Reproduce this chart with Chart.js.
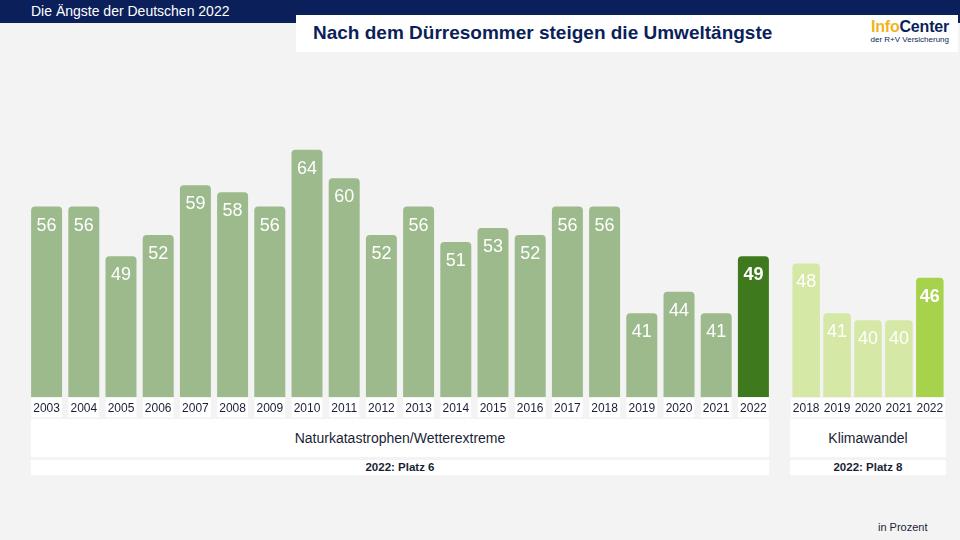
<!DOCTYPE html>
<html lang="de">
<head>
<meta charset="utf-8">
<script src="https://cdn.jsdelivr.net/npm/chart.js@4.4.0/dist/chart.umd.min.js"></script>
<style>
  html, body { margin: 0; padding: 0; }
  body {
    width: 960px; height: 540px; position: relative; overflow: hidden;
    background: #f3f3f3; font-family: "Liberation Sans", Arial, sans-serif;
  }
  .kopf { position: absolute; left: 0; top: 0; width: 960px; height: 23px; background: #0b1f5b; }
  .kopf span { position: absolute; left: 31px; top: 3px; color: #fff; font-size: 14px; }
  .titel {
    position: absolute; left: 296px; top: 15px; width: 662px; height: 37px; background: #fff;
  }
  .titel h1 {
    position: absolute; left: 17px; top: 7px; margin: 0;
    font-size: 19px; font-weight: bold; color: #0b1f5b;
  }
  .logo { position: absolute; left: 563px; top: 3px; width: 90px; text-align: right; }
  .logo b { display: block; font-size: 16px; color: #0b1f5b; letter-spacing: -0.2px; }
  .logo b em { font-style: normal; color: #f0b323; }
  .logo small { display: block; font-size: 8px; color: #0b1f5b; margin-top: -1px; }
  .box {
    position: absolute; background: #fff; color: #1a1f36; text-align: center;
  }
  .kat { top: 419px; height: 38px; line-height: 38px; font-size: 14px; }
  .platz { top: 460px; height: 15px; line-height: 15px; font-size: 11.5px; font-weight: bold; }
  .einheit { position: absolute; left: 878px; top: 521px; font-size: 11px; color: #1a1f36; }
  canvas { position: absolute; }
</style>
</head>
<body>
<div class="kopf"><span>Die Ängste der Deutschen 2022</span></div>
<div class="titel">
  <h1>Nach dem Dürresommer steigen die Umweltängste</h1>
  <div class="logo"><b><em>Info</em>Center</b><small>der R+V Versicherung</small></div>
</div>

<div style="position:absolute;left:28px;top:100px;width:744px;height:319px">
  <canvas id="chartNatur"></canvas>
</div>
<div style="position:absolute;left:789px;top:100px;width:158px;height:319px">
  <canvas id="chartKlima"></canvas>
</div>

<div class="box kat" style="left:31px;width:738px">Naturkatastrophen/Wetterextreme</div>
<div class="box platz" style="left:31px;width:738px">2022: Platz 6</div>
<div class="box kat" style="left:790px;width:156px">Klimawandel</div>
<div class="box platz" style="left:790px;width:156px">2022: Platz 8</div>
<div class="einheit">in Prozent</div>

<script>
// ================================
// Daten
// ================================
const jahreNatur = ["2003", "2004", "2005", "2006", "2007", "2008", "2009", "2010", "2011", "2012",
  "2013", "2014", "2015", "2016", "2017", "2018", "2019", "2020", "2021", "2022"];
const werteNatur = [56, 56, 49, 52, 59, 58, 56, 64, 60, 52, 56, 51, 53, 52, 56, 56, 41, 44, 41, 49];

const jahreKlima = ["2018", "2019", "2020", "2021", "2022"];
const werteKlima = [48, 41, 40, 40, 46];

// y-Achse (unsichtbar): gleiche Skala fuer beide Gruppen
const yMin = 29.2;
const yMax = 71;

// ================================
// Farben
// ================================
const farbeNatur = "#9cba8c";
const farbeNaturAktuell = "#3e7a1d";
const farbeKlima = "#d5e8a6";
const farbeKlimaAktuell = "#a6d24c";

Chart.defaults.font.family = "'Liberation Sans', Arial, sans-serif";

// Werte oben in den Balken
const werteLabels = {
  id: "werteLabels",
  afterDatasetsDraw(chart) {
    const { ctx } = chart;
    const meta = chart.getDatasetMeta(0);
    const ds = chart.data.datasets[0];
    const letzter = ds.data.length - 1;
    ctx.save();
    ctx.textAlign = "center";
    ctx.textBaseline = "middle";
    ctx.fillStyle = "#ffffff";
    meta.data.forEach((bar, i) => {
      ctx.font = (i === letzter ? "bold " : "") + "18px 'Liberation Sans', Arial, sans-serif";
      ctx.fillText(ds.data[i], bar.x, bar.y + 19);
    });
    ctx.restore();
  },
};

function baueChart(id, labels, werte, farbe, farbeAktuell, balkenAnteil) {
  const farben = werte.map((_, i) => (i === werte.length - 1 ? farbeAktuell : farbe));
  return new Chart(document.getElementById(id), {
    type: "bar",
    data: {
      labels: labels,
      datasets: [
        {
          data: werte,
          backgroundColor: farben,
          borderRadius: { topLeft: 4, topRight: 4 },
          borderSkipped: "start",
          categoryPercentage: 1,
          barPercentage: balkenAnteil,
        },
      ],
    },
    options: {
      responsive: true,
      maintainAspectRatio: false,
      animation: false,
      layout: { padding: 0 },
      plugins: { legend: { display: false }, tooltip: { enabled: false } },
      scales: {
        x: {
          grid: { display: false, drawTicks: false },
          border: { display: false },
          ticks: {
            color: "#1a1f36",
            font: { size: 12 },
            padding: 4,
            maxRotation: 0,
            autoSkip: false,
            showLabelBackdrop: true,
            backdropColor: "#ffffff",
            backdropPadding: { left: 2, right: 2, top: 3, bottom: 2 },
          },
          afterFit: (scale) => { scale.height = 22; },
        },
        y: { display: false, min: yMin, max: yMax },
      },
    },
    plugins: [werteLabels],
  });
}

baueChart("chartNatur", jahreNatur, werteNatur, farbeNatur, farbeNaturAktuell, 0.833);
baueChart("chartKlima", jahreKlima, werteKlima, farbeKlima, farbeKlimaAktuell, 0.89);
</script>
</body>
</html>
